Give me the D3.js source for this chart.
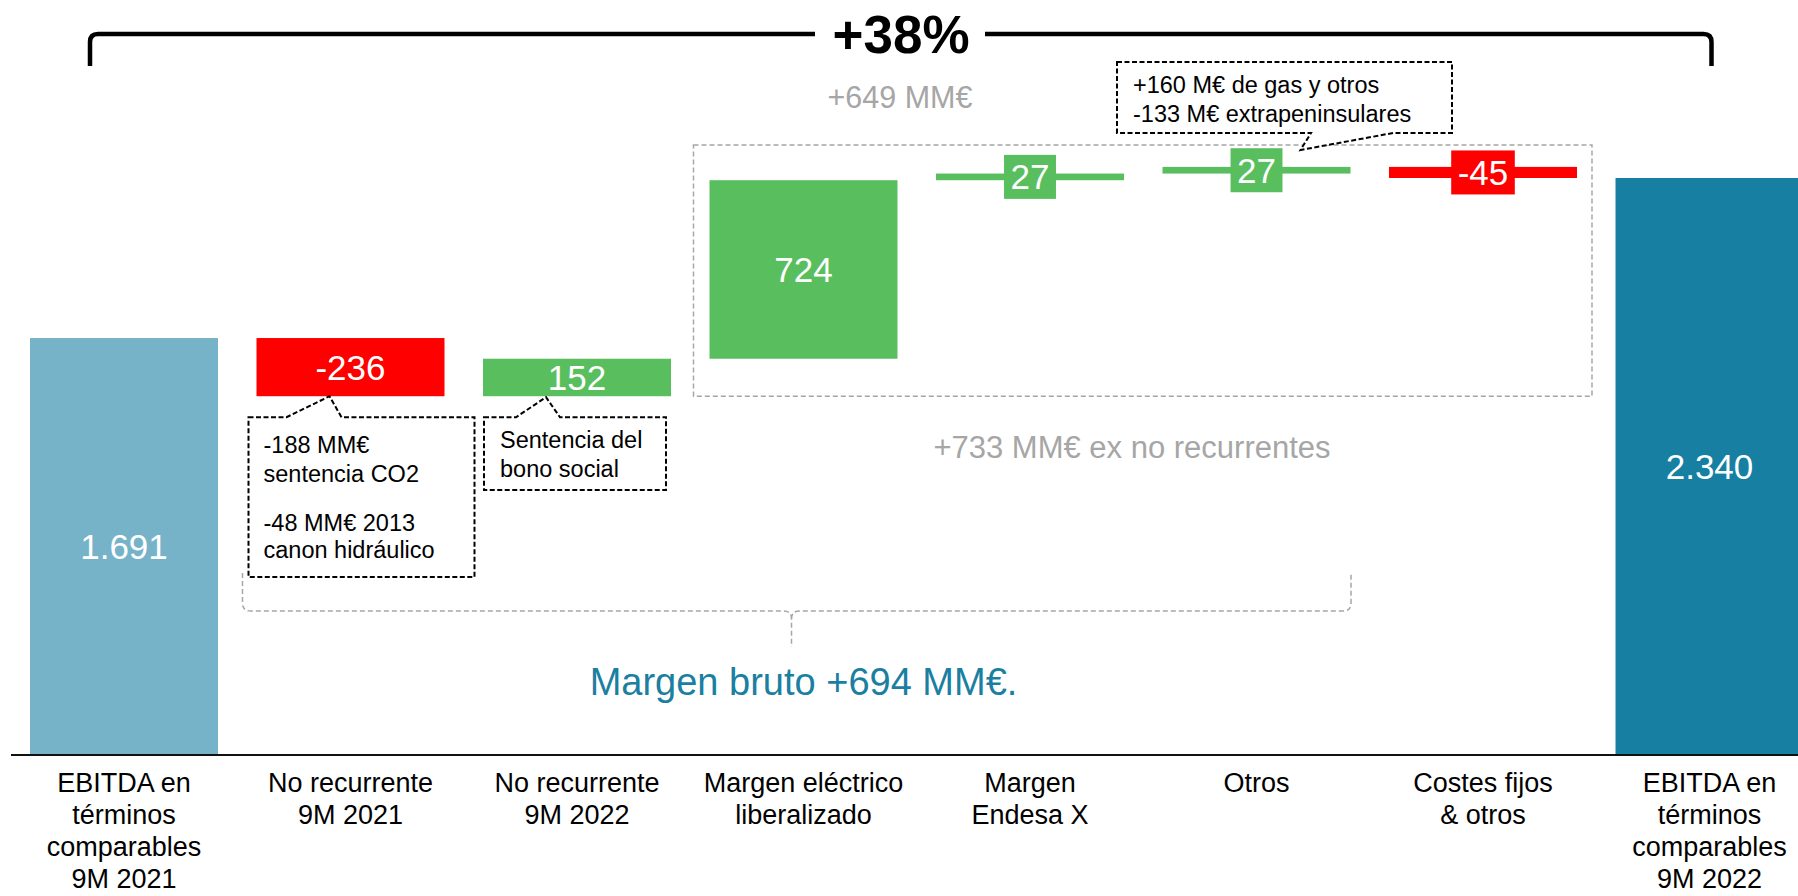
<!DOCTYPE html>
<html>
<head>
<meta charset="utf-8">
<script src="https://cdn.jsdelivr.net/npm/d3@7"></script>
<style>
  body { margin: 0; background: #fff; overflow: hidden; }
  svg { display: block; font-family: "Liberation Sans", Arial, sans-serif; }
</style>
</head>
<body>
<svg id="chart" width="1798" height="896"></svg>
<script>
// categories (one entry per bar, split in lines as on the slide)
const CATEGORIES = [
  ["EBITDA en", "términos", "comparables", "9M 2021"],
  ["No recurrente", "9M 2021"],
  ["No recurrente", "9M 2022"],
  ["Margen eléctrico", "liberalizado"],
  ["Margen", "Endesa X"],
  ["Otros"],
  ["Costes fijos", "& otros"],
  ["EBITDA en", "términos", "comparables", "9M 2022"]
]
const VALUES = [1691, -236, 152, 724, 27, 27, -45, 2340]
const VALUE_LABELS = ["1.691", "-236", "152", "724", "27", "27", "-45", "2.340"]
const IS_TOTAL = [true, false, false, false, false, false, false, true]

// notes
const NOTE_2021 = ["-188 MM€", "sentencia CO2", "-48 MM€ 2013", "canon hidráulico"]
const NOTE_2022 = ["Sentencia del", "bono social"]
const NOTE_OTROS = ["+160 M€ de gas y otros", "-133 M€ extrapeninsulares"]
const TOTAL_CHANGE = "+38%"
const EX_LABEL = "+649 MM€"
const RECURRENT_LABEL = "+733 MM€ ex no recurrentes"
const MARGIN_LABEL = "Margen bruto +694 MM€."

const COLOR_START = "#76b3c8"
const COLOR_END = "#167fa2"
const COLOR_UP = "#58be5e"
const COLOR_DOWN = "#ff0000"
const GREY = "#a6a6a6"

const svg = d3.select("#chart")

//Waterfall steps
let running = 0
const steps = VALUES.map((v, i) => {
  let y0, y1
  if (IS_TOTAL[i]) { y0 = 0; y1 = v; running = v }
  else { y0 = running; y1 = running + v; running = y1 }
  return { i, v, y0, y1, label: VALUE_LABELS[i] }
})

const x = d3.scaleBand()
  .domain(d3.range(CATEGORIES.length))
  .range([10.75, 1822.75])
  .paddingInner(0.17)
  .paddingOuter(0.085)

const y = d3.scaleLinear().domain([0, 2340]).range([755, 178])
const bw = x.bandwidth()

function barColor(d) {
  if (IS_TOTAL[d.i]) return d.i == 0 ? COLOR_START : COLOR_END
  return d.v >= 0 ? COLOR_UP : COLOR_DOWN
}

// grey dashed box round the recurrent part
const boxLeft = x(3) - 16, boxRight = x(6) + bw + 15
const boxTop = y(steps[5].y1) - 22, boxBottom = y(steps[2].y0)
svg.append("rect")
  .attr("x", boxLeft).attr("y", boxTop)
  .attr("width", boxRight - boxLeft).attr("height", boxBottom - boxTop)
  .attr("fill", "none").attr("stroke", GREY).attr("stroke-width", 1.5)
  .attr("stroke-dasharray", "5,3")

// bars
svg.selectAll("rect.bar").data(steps).enter()
  .append("rect")
  .attr("class", "bar")
  .attr("x", d => x(d.i))
  .attr("y", d => y(Math.max(d.y0, d.y1)))
  .attr("width", bw)
  .attr("height", d => Math.abs(y(d.y0) - y(d.y1)))
  .attr("fill", barColor)

// value labels
const LABEL_SIZE = 35
steps.forEach(d => {
  const cx = x(d.i) + bw / 2
  const cy = (y(d.y0) + y(d.y1)) / 2
  const h = Math.abs(y(d.y0) - y(d.y1))
  const g = svg.append("g")
  const t = g.append("text")
    .attr("x", cx).attr("y", cy + LABEL_SIZE * 0.36)
    .attr("text-anchor", "middle")
    .attr("font-size", LABEL_SIZE)
    .attr("fill", "#fff")
    .text(d.label)
  //small bars get a box behind the number
  if (h < 30) {
    const w = t.node().getComputedTextLength() + 13
    g.insert("rect", "text")
      .attr("x", cx - w / 2).attr("y", cy - 22)
      .attr("width", w).attr("height", 44)
      .attr("fill", barColor(d))
  }
})

// axis baseline
svg.append("line")
  .attr("x1", 11).attr("x2", 1798)
  .attr("y1", y(0)).attr("y2", y(0))
  .attr("stroke", "#111").attr("stroke-width", 2.2)

// category labels
CATEGORIES.forEach((lines, i) => {
  const t = svg.append("text")
    .attr("text-anchor", "middle")
    .attr("font-size", 27)
    .attr("fill", "#000")
  lines.forEach((line, k) => {
    t.append("tspan")
      .attr("x", x(i) + bw / 2)
      .attr("y", y(0) + 37 + k * 32)
      .text(line)
  })
})

// top bracket +38%
const brL = x(0) + 60, brR = x(7) + bw / 2 + 2
const brY = 34, brLeg = 32
svg.append("path")
  .attr("d", `M${brL},${brY + brLeg} L${brL},${brY + 8} Q${brL},${brY} ${brL + 8},${brY} L815,${brY}` +
             ` M985,${brY} L${brR - 8},${brY} Q${brR},${brY} ${brR},${brY + 8} L${brR},${brY + brLeg}`)
  .attr("fill", "none").attr("stroke", "#000").attr("stroke-width", 4.5)
svg.append("text")
  .attr("x", 901).attr("y", 53)
  .attr("text-anchor", "middle")
  .attr("font-size", 53).attr("font-weight", "bold")
  .text(TOTAL_CHANGE)

// grey notes
svg.append("text")
  .attr("x", 900).attr("y", 108)
  .attr("text-anchor", "middle").attr("font-size", 30.5).attr("fill", GREY)
  .text(EX_LABEL)
svg.append("text")
  .attr("x", 1132).attr("y", 458)
  .attr("text-anchor", "middle").attr("font-size", 31).attr("fill", GREY)
  .text(RECURRENT_LABEL)

// lower grey brace
const lbL = x(1) - 14, lbR = x(6) - 38, lbTop = 573, lbY = 611
const lbC = x(3) + bw / 2 - 12
svg.append("path")
  .attr("d", `M${lbL},${lbTop} L${lbL},${lbY - 8} Q${lbL},${lbY} ${lbL + 8},${lbY} L${lbC - 8},${lbY} Q${lbC},${lbY} ${lbC},${lbY + 8} L${lbC},647` +
             ` M${lbC},${lbY + 8} Q${lbC},${lbY} ${lbC + 8},${lbY} L${lbR - 8},${lbY} Q${lbR},${lbY} ${lbR},${lbY - 8} L${lbR},${lbTop}`)
  .attr("fill", "none").attr("stroke", GREY).attr("stroke-width", 1.5)
  .attr("stroke-dasharray", "5,3")

svg.append("text")
  .attr("x", x(3) + bw / 2).attr("y", 695)
  .attr("text-anchor", "middle").attr("font-size", 38).attr("fill", "#1a7fa1")
  .text(MARGIN_LABEL)

// callout box with pointer on top or bottom edge
function callout(box, base, tip, top) {
  const { l, r, t, b } = box
  let d
  if (top) {
    d = `M${l},${t} L${base[0]},${t} L${tip[0]},${tip[1]} L${base[1]},${t} L${r},${t} L${r},${b} L${l},${b} Z`
  } else {
    d = `M${l},${t} L${r},${t} L${r},${b} L${base[1]},${b} L${tip[0]},${tip[1]} L${base[0]},${b} L${l},${b} Z`
  }
  svg.append("path")
    .attr("d", d)
    .attr("fill", "#fff").attr("stroke", "#000").attr("stroke-width", 2)
    .attr("stroke-dasharray", "5,2.5")
}
function noteText(lines, xPos, baselines) {
  const t = svg.append("text").attr("font-size", 23.5).attr("fill", "#000")
  lines.forEach((line, k) => {
    t.append("tspan").attr("x", xPos).attr("y", baselines[k]).text(line)
  })
}

// -236 note
const b1 = y(steps[1].y1)
callout({ l: x(1) - 8, r: x(1) + bw + 30, t: b1 + 21, b: 577 }, [x(1) + 30, x(1) + 85], [x(1) + bw / 2 - 21, b1], true)
noteText(NOTE_2021, x(1) + 7, [453, 482, 531, 558])

// 152 note
const b2 = y(steps[2].y0)
callout({ l: x(2) + 1, r: x(2) + bw - 5, t: b2 + 21, b: 490 }, [x(2) + 33, x(2) + 77], [x(2) + 63, b2 + 1], true)
noteText(NOTE_2022, x(2) + 17, [448, 477])

// Otros note
callout({ l: 1117, r: 1452, t: 62, b: 133 }, [1311, 1393], [x(5) + bw / 2 + 44, 150], false)
noteText(NOTE_OTROS, 1133, [93, 122])
</script>
</body>
</html>
